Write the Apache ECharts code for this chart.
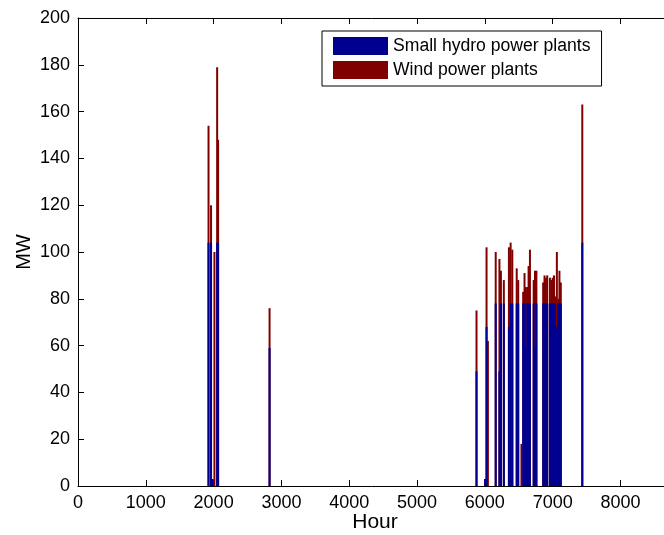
<!DOCTYPE html>
<html>
<head>
<meta charset="utf-8">
<script src="https://cdn.jsdelivr.net/npm/echarts@6/dist/echarts.min.js"></script>
<style>
html,body{margin:0;padding:0;background:#fff;overflow:hidden;}
#c{width:664px;height:535px;}
</style>
</head>
<body>
<div id="c"></div>
<script>
// Hour of year for each bar
var hours = [1925,1962,1982,2012,2052,2066,2825,5877,6003,6025,6045,6160,6215,6237,6280,6355,6380,6405,6470,6492,6540,6565,6585,6605,6625,6645,6665,6720,6740,6760,6860,6880,6900,6920,6960,6980,7000,7020,7035,7062,7082,7100,7120,7437];
// Small hydro power plants output (MW)
var hydro = [104,104,3,0,104,104,59,49,3,68,0,78,49,78,78,68,78,78,78,78,0,78,78,59,78,78,78,78,59,78,78,78,78,78,78,78,78,78,78,68,78,78,78,104];
// Wind power plants output (MW)
var wind = [50,16,0,100,75,44,17,26,0,34,62,22,48,14,10,34,26,23,15,10,18,5,13,26,7,16,23,10,33,14,9,12,11,12,11,10,11,12,3,32,2,14,9,59];
var xTicks = [0,1000,2000,3000,4000,5000,6000,7000,8000];
var yTicks = [0,20,40,60,80,100,120,140,160,180,200];

var hydroData = hours.map(function(h,i){return [h, hydro[i]];});
var totalData = hours.map(function(h,i){return [h, hydro[i] + wind[i]];});

var FONT = 'Liberation Sans, Arial, Helvetica, sans-serif';
var chart = echarts.init(document.getElementById('c'), null, {renderer:'canvas'});
chart.setOption({
  animation:false,
  backgroundColor:'#fff',
  grid:{left:78, top:18, height:468, width:594, containLabel:false, outerBoundsMode:'none'},
  legend:{
    left:322, top:31, orient:'vertical',
    data:['Small hydro power plants','Wind power plants'],
    icon:'rect', itemWidth:55, itemHeight:18, itemGap:6,
    padding:[6,11,7,11],
    borderColor:'#000', borderWidth:1, backgroundColor:'#fff',
    textStyle:{fontSize:17.6, color:'#000', fontFamily:FONT}
  },
  xAxis:[{
    type:'value', min:0, max:8760, interval:1000, position:'bottom',
    name:'Hour', nameLocation:'middle', nameGap:26, nameMoveOverlap:false,
    nameTextStyle:{fontSize:21, color:'#000', fontFamily:FONT},
    axisLine:{show:true, onZero:false, lineStyle:{color:'#000', width:1}},
    axisTick:{show:true, inside:true, length:6, lineStyle:{color:'#000'}},
    axisLabel:{show:true, margin:8, fontSize:18, color:'#000', fontFamily:FONT, showMaxLabel:false,
      formatter:function(v){return xTicks.indexOf(v)>=0 ? String(v) : '';}},
    splitLine:{show:false}
  },{
    type:'value', min:0, max:8760, interval:1000, position:'top',
    axisLine:{show:true, onZero:false, lineStyle:{color:'#000', width:1}},
    axisTick:{show:true, inside:true, length:6, lineStyle:{color:'#000'}},
    axisLabel:{show:false}, splitLine:{show:false}
  }],
  yAxis:{
    type:'value', min:0, max:200, interval:20,
    name:'MW', nameLocation:'middle', nameGap:44, nameMoveOverlap:false,
    nameTextStyle:{fontSize:20, color:'#000', fontFamily:FONT},
    axisLine:{show:true, onZero:false, lineStyle:{color:'#000', width:1}},
    axisTick:{show:true, inside:true, length:6, lineStyle:{color:'#000'}},
    axisLabel:{show:true, margin:8, fontSize:18, color:'#000', fontFamily:FONT,
      formatter:function(v){return yTicks.indexOf(v)>=0 ? String(v) : '';}},
    splitLine:{show:false}
  },
  series:[{
    name:'Small hydro power plants', type:'bar', xAxisIndex:0, z:3,
    barWidth:2, barGap:'-100%',
    itemStyle:{color:'#00008F'},
    data:hydroData
  },{
    name:'Wind power plants', type:'bar', xAxisIndex:0, z:2,
    barWidth:2, barGap:'-100%',
    itemStyle:{color:'#800000'},
    data:totalData
  }]
});
</script>
</body>
</html>
